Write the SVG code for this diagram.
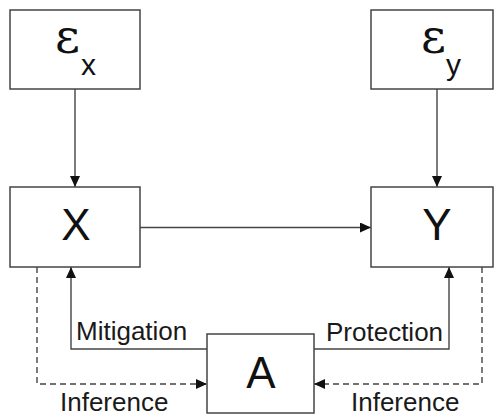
<svg xmlns="http://www.w3.org/2000/svg" width="494" height="417" viewBox="0 0 494 417">
<style>
.box{fill:#fff;stroke:#444;stroke-width:1.5}
.ln{fill:none;stroke:#444;stroke-width:1.4}
.dash{fill:none;stroke:#444;stroke-width:1.4;stroke-dasharray:6 4}
.big{font-family:"Liberation Sans",Arial,sans-serif;font-size:44px;fill:#111;text-anchor:middle}
.eps{font-family:"DejaVu Serif","Liberation Serif",serif;font-size:48px;fill:#111}
.sub{font-family:"Liberation Sans",Arial,sans-serif;font-size:30px;fill:#111}
.lbl{font-family:"Liberation Sans",Arial,sans-serif;font-size:26px;fill:#1a1a1a}
</style>
<defs>
<marker id="ah" markerUnits="userSpaceOnUse" markerWidth="12" markerHeight="10" refX="11" refY="5" orient="auto">
<path d="M0,0 L11,5 L0,10 Z" fill="#111"/>
</marker>
</defs>
<g id="connectors">
<line class="ln" x1="75" y1="89" x2="75" y2="187" marker-end="url(#ah)"/>
<line class="ln" x1="437" y1="89" x2="437" y2="187" marker-end="url(#ah)"/>
<line class="ln" x1="140" y1="227.5" x2="371" y2="227.5" marker-end="url(#ah)"/>
<path class="ln" d="M207,349 H71 V267" marker-end="url(#ah)"/>
<path class="ln" d="M314,349 H449 V267" marker-end="url(#ah)"/>
<path class="dash" d="M37,267 V384 H207" marker-end="url(#ah)"/>
<path class="dash" d="M482,267 V384 H314" marker-end="url(#ah)"/>
<text class="lbl" x="76" y="340">Mitigation</text>
<text class="lbl" x="326" y="341">Protection</text>
<text class="lbl" x="60" y="411">Inference</text>
<text class="lbl" x="351" y="411">Inference</text>
</g>
<g id="ex">
<rect class="box" x="10" y="10" width="130" height="79"/>
<text x="55" y="53"><tspan class="eps">ε</tspan><tspan class="sub" x="81" y="75">x</tspan></text>
</g>
<g id="ey">
<rect class="box" x="371" y="10" width="122" height="79"/>
<text x="421" y="53"><tspan class="eps">ε</tspan><tspan class="sub" x="446" y="75">y</tspan></text>
</g>
<g id="X">
<rect class="box" x="10" y="187" width="130" height="80"/>
<text class="big" x="76" y="240">X</text>
</g>
<g id="Y">
<rect class="box" x="371" y="187" width="122" height="80"/>
<text class="big" x="437" y="240">Y</text>
</g>
<g id="A">
<rect class="box" x="207" y="334" width="107" height="79"/>
<text class="big" x="261" y="388">A</text>
</g>
</svg>
